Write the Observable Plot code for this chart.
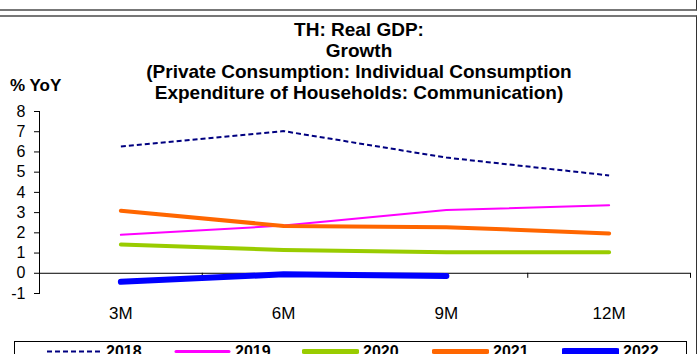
<!DOCTYPE html>
<html>
<head>
<meta charset="utf-8">
<script src="https://cdn.jsdelivr.net/npm/d3@7"></script>
<script src="https://cdn.jsdelivr.net/npm/@observablehq/plot@0.6"></script>
<style>
  html, body { margin: 0; padding: 0; background: #fff; overflow: hidden; }
  body { width: 699px; height: 354px; position: relative; font-family: "Liberation Sans", Arial, sans-serif; }
  .abs { position: absolute; }
  #topbox { left: -2px; top: -12px; width: 697px; height: 20px; border: 1px solid #333; border-bottom: 2px solid #777; }
  #panel { left: -2px; top: 15px; width: 697px; height: 360px; border: 1px solid #333; border-top: 2px solid #777; }
  #title { left: 0; width: 718px; top: 19px; text-align: center; font-weight: bold; font-size: 19px; line-height: 21px; color: #000; white-space: nowrap; }
  #ylab { left: 10px; top: 76px; font-weight: bold; font-size: 17px; line-height: 20px; color: #000; }
  #legend { left: 14px; top: 341px; width: 671px; height: 30px; border: 1px solid #000; }
  .item { position: absolute; top: 2px; font-weight: bold; font-size: 16px; line-height: 16px; display: flex; align-items: center; }
  .item svg { margin-right: 4px; }
  #chart { left: 0; top: 0; }
</style>
</head>
<body>
<div id="topbox" class="abs"></div>
<div id="panel" class="abs"></div>
<div id="title" class="abs"></div>
<div id="ylab" class="abs">% YoY</div>
<div id="chart" class="abs"></div>
<div id="legend" class="abs"></div>
<script>
const titleLines = ["TH: Real GDP:", "Growth", "(Private Consumption: Individual Consumption", "Expenditure of Households: Communication)"];
const categories = ["3M", "6M", "9M", "12M"];
const yTicks = [-1, 0, 1, 2, 3, 4, 5, 6, 7, 8];
const seriesNames = ["2018", "2019", "2020", "2021", "2022"];
const v2018 = [6.27, 7.03, 5.72, 4.84];
const v2019 = [1.90, 2.36, 3.13, 3.36];
const v2020 = [1.42, 1.15, 1.04, 1.04];
const v2021 = [3.09, 2.34, 2.28, 1.97];
const v2022 = [-0.42, -0.05, -0.13];
const seriesValues = [v2018, v2019, v2020, v2021, v2022];
const colors = ["#000080", "#FF00FF", "#99CC00", "#FF6600", "#0000FF"];
const widths = [2, 2, 4, 4, 6];
const dashes = ["5,3", null, null, null, null];

document.getElementById("title").innerHTML = titleLines.join("<br>");

const data = [];
seriesNames.forEach((s, i) => {
  seriesValues[i].forEach((v, j) => data.push({series: s, cat: categories[j], idx: j + 0.5, value: v}));
});

const lineMarks = seriesNames.map((s, i) => Plot.line(data.filter(d => d.series === s), {
  x: "idx", y: "value", stroke: colors[i], strokeWidth: widths[i],
  strokeDasharray: dashes[i] || undefined, strokeLinecap: dashes[i] ? "butt" : "round", strokeLinejoin: "round"
}));

const chart = Plot.plot({
  width: 699, height: 354,
  marginTop: 111, marginBottom: 61, marginLeft: 39, marginRight: 9,
  style: {fontFamily: "Liberation Sans, Arial, sans-serif", fontSize: "16px", color: "#000", background: "transparent"},
  x: {domain: [0, categories.length], label: null},
  y: {domain: [-1, 8], label: null},
  marks: [
    Plot.frame({anchor: "left", stroke: "#000"}),
    Plot.axisY(yTicks, {tickSize: 5, tickPadding: 9, tickFormat: d => String(d), fontSize: 16}),
    Plot.axisX(categories.map((c, i) => i + 0.5), {tickSize: 0, tickPadding: 13, tickFormat: d => categories[Math.floor(d)], fontSize: 17}),
    Plot.ruleY([0], {stroke: "#000", strokeWidth: 1}),
    Plot.ruleX(d3.range(1, categories.length + 1), {y1: 0, y2: -0.25, stroke: "#000"}),
    ...lineMarks
  ]
});
document.getElementById("chart").appendChild(chart);

const legend = document.getElementById("legend");
const lx = [30, 159, 287, 417, 547];
seriesNames.forEach((s, i) => {
  const it = document.createElement("div");
  it.className = "item";
  it.style.left = lx[i] + "px";
  it.innerHTML = `<svg width="57" height="10"><line x1="2" x2="55" y1="4.5" y2="4.5" stroke="${colors[i]}" stroke-width="${widths[i] + (i>0?1:0)}" ${dashes[i] ? `stroke-dasharray="${dashes[i]}"` : ""} stroke-linecap="${dashes[i] ? "butt" : "round"}"/></svg>${s}`;
  legend.appendChild(it);
});
</script>
</body>
</html>
